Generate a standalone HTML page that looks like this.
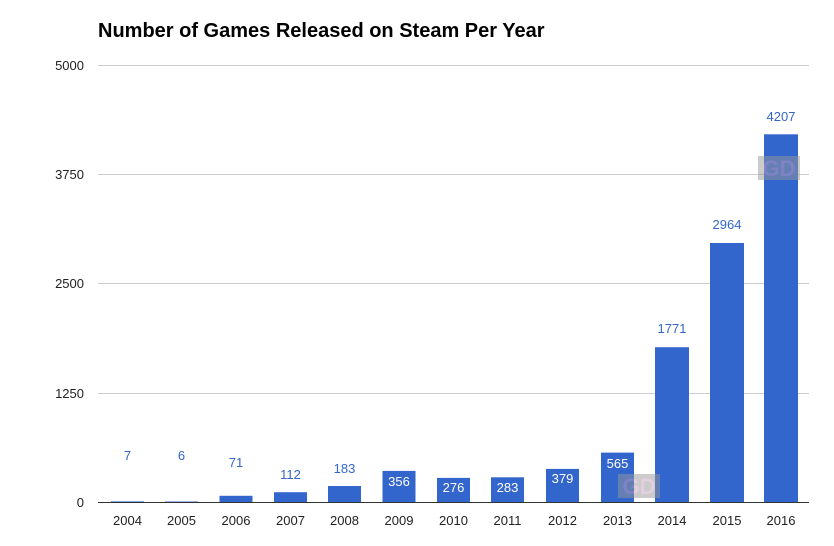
<!DOCTYPE html>
<html><head><meta charset="utf-8"><style>body{margin:0;background:#fff}svg{display:block}</style></head><body>
<svg width="834" height="546" viewBox="0 0 834 546" xmlns="http://www.w3.org/2000/svg" font-family="Liberation Sans, Arial, sans-serif">
<rect width="834" height="546" fill="#fff"/>
<text x="98" y="37" font-size="20" font-weight="bold" fill="#000">Number of Games Released on Steam Per Year</text>
<g stroke="#ccc" stroke-width="1">
<line x1="98" y1="65.5" x2="809" y2="65.5"/>
<line x1="98" y1="174.5" x2="809" y2="174.5"/>
<line x1="98" y1="283.5" x2="809" y2="283.5"/>
<line x1="98" y1="393.5" x2="809" y2="393.5"/>
</g>
<g font-size="13" fill="#222" text-anchor="end">
<text x="84" y="70">5000</text>
<text x="84" y="179">3750</text>
<text x="84" y="288">2500</text>
<text x="84" y="398">1250</text>
<text x="84" y="507">0</text>
</g>
<g fill="#3366cc">
<rect x="111" y="501.4" width="33" height="0.6"/>
<rect x="165" y="501.5" width="33" height="0.5"/>
<rect x="219.5" y="495.8" width="33" height="6.2"/>
<rect x="274" y="492.2" width="33" height="9.8"/>
<rect x="328" y="486" width="33" height="16"/>
<rect x="382.5" y="470.9" width="33" height="31.1"/>
<rect x="437" y="477.9" width="33" height="24.1"/>
<rect x="491" y="477.3" width="33" height="24.7"/>
<rect x="546" y="468.9" width="33" height="33.1"/>
<rect x="601" y="452.6" width="33" height="49.4"/>
<rect x="655" y="347.2" width="34" height="154.8"/>
<rect x="710" y="243" width="34" height="259"/>
<rect x="764" y="134.3" width="34" height="367.7"/>
</g>
<line x1="98" y1="502.5" x2="809" y2="502.5" stroke="#333" stroke-width="1"/>
<g font-size="13" fill="#3366cc" text-anchor="middle">
<text x="127.5" y="460">7</text>
<text x="181.5" y="460">6</text>
<text x="236" y="467">71</text>
<text x="290.5" y="479">112</text>
<text x="344.5" y="473">183</text>
<text x="672" y="333">1771</text>
<text x="727" y="229">2964</text>
<text x="781" y="121">4207</text>
</g>
<g font-size="13" fill="#fff" text-anchor="middle">
<text x="399" y="486">356</text>
<text x="453.5" y="492">276</text>
<text x="507.5" y="492">283</text>
<text x="562.5" y="483">379</text>
<text x="617.5" y="468">565</text>
</g>
<g opacity="0.5">
<rect x="618" y="474" width="42" height="24" fill="#999"/>
<text x="639" y="494" font-size="22" font-weight="bold" fill="#c9a0c0" text-anchor="middle">GD</text>
<rect x="758" y="156" width="42" height="24" fill="#999"/>
<text x="779" y="176" font-size="22" font-weight="bold" fill="#c9a0c0" text-anchor="middle">GD</text>
</g>
<g font-size="13" fill="#222" text-anchor="middle">
<text x="127.5" y="525">2004</text>
<text x="181.5" y="525">2005</text>
<text x="236" y="525">2006</text>
<text x="290.5" y="525">2007</text>
<text x="344.5" y="525">2008</text>
<text x="399" y="525">2009</text>
<text x="453.5" y="525">2010</text>
<text x="507.5" y="525">2011</text>
<text x="562.5" y="525">2012</text>
<text x="617.5" y="525">2013</text>
<text x="672" y="525">2014</text>
<text x="727" y="525">2015</text>
<text x="781" y="525">2016</text>
</g>
</svg>
</body></html>
